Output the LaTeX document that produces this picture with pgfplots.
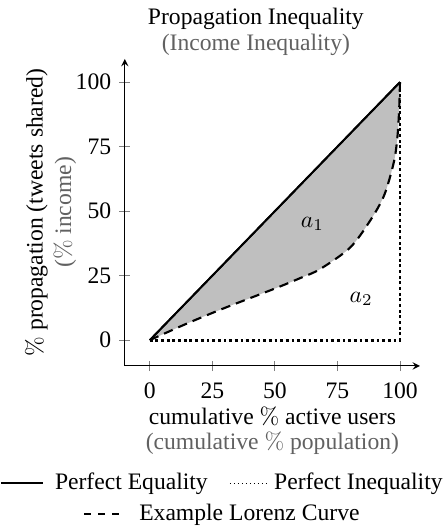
\documentclass[border=0pt]{standalone}
\usepackage{pgfplots}
\pgfplotsset{compat=1.18}
\usepgfplotslibrary{fillbetween}
\usepackage[no-math]{fontspec}
\setmainfont{Liberation Serif}
\definecolor{subgray}{gray}{0.38}
\begin{document}
\begin{tikzpicture}
\begin{axis}[
  scale only axis,
  width=125pt, height=130pt,
  axis lines=left,
  xmin=-10, xmax=108, ymin=-10, ymax=109,
  xtick={0,25,50,75,100}, ytick={0,25,50,75,100},
  tick style={gray, thin},
  tick align=center,
  major tick length=4.5pt,
  /pgf/number format/assume math mode=true,
  xticklabel style={yshift=-1.5pt},
  title={Propagation Inequality\\[-1pt]\textcolor{subgray}{(Income Inequality)}},
  title style={align=center, yshift=-8pt, xshift=-7pt},
  xlabel={cumulative $\%$ active users\\[-1.5pt]\textcolor{subgray}{(cumulative $\%$ population)}},
  xlabel style={align=center, yshift=3.5pt},
  ylabel={$\%$ propagation (tweets shared)\\\textcolor{subgray}{($\%$ income)}},
  ylabel style={align=center},
  ylabel shift=-7pt,
  clip=false,
]
\addplot[name path=eq, thick, black] coordinates {(0,0) (100,100)};
\addplot[name path=lor, line width=0.9pt, black, dash pattern=on 4pt off 2.6pt, smooth, tension=0.5] coordinates {
 (0,0) (15,6.5) (30,12.5) (50,20) (60,24) (68,27.5) (80,35.8) (88,46.2) (93.7,56.2) (97.6,69.2) (99,79) (99.7,90) (100,100)};
\addplot[black!25] fill between[of=eq and lor];
\addplot[thick, black] coordinates {(0,0) (100,100)};
\addplot[line width=1.2pt, black, dash pattern=on 1.2pt off 1.2pt] coordinates {(0,0) (100,0) (100,100)};
\node at (axis cs:65,45) {$a_1$};
\node at (axis cs:84.5,16) {$a_2$};
\end{axis}
\node[below=3pt, inner sep=0pt] at (current bounding box.south) {%
\begin{tabular}{@{}c@{}}
\tikz[baseline=-0.6ex]\draw[thick] (0,0)--(18pt,0);\hspace{4.5pt}Perfect Equality\hspace{9pt}\tikz[baseline=-0.6ex]\draw[semithick,dash pattern=on 0.6pt off 1.1pt] (0,0)--(16pt,0);\hspace{2.5pt}Perfect Inequality\\[1pt]
\tikz[baseline=-0.6ex]\draw[thick,dash pattern=on 3pt off 3pt] (0,0)--(15pt,0);\hspace{8pt}Example Lorenz Curve
\end{tabular}};
\end{tikzpicture}
\end{document}
